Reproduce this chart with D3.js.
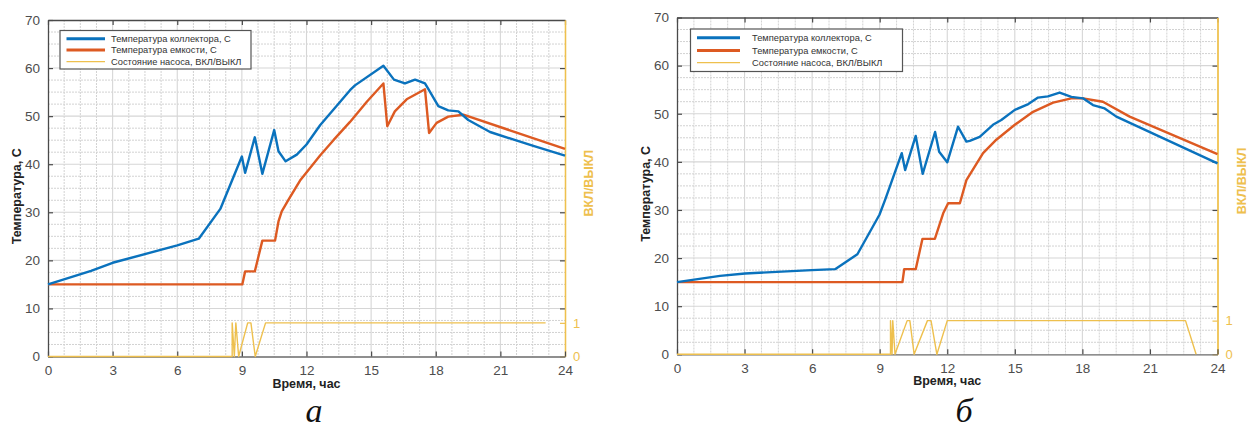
<!DOCTYPE html>
<html>
<head>
<meta charset="utf-8">
<script src="https://cdn.jsdelivr.net/npm/d3@7"></script>
<style>
  html, body { margin: 0; padding: 0; background: #fff; }
  svg { display: block; }
</style>
</head>
<body>
<svg id="chart" width="1247" height="432"></svg>
<script>
// ---------- DATA ----------
const hourTicks = [0, 3, 6, 9, 12, 15, 18, 21, 24];
const tempTicks = [0, 10, 20, 30, 40, 50, 60, 70];
const pumpTicks = [0, 1];
const legendLabels = ["Температура коллектора, С", "Температура емкости, С", "Состояние насоса, ВКЛ/ВЫКЛ"];
const xTitle = "Время, час";
const yTitle = "Температура, С";
const y2Title = "ВКЛ/ВЫКЛ";
const captions = ["а", "б"];

// Panel a
const collectorA_t = [0, 2, 3, 6, 7, 8, 9.0, 9.15, 9.6, 9.95, 10.5, 10.7, 11.03, 11.55, 12.0, 12.63, 14.02, 14.25, 15.57, 16.06, 16.57, 17.04, 17.5, 17.66, 18.12, 18.58, 19.05, 19.51, 20.52, 22.53, 24];
const collectorA_v = [15, 17.8, 19.5, 23.1, 24.5, 30.7, 41.6, 38.2, 45.6, 38.0, 47.1, 42.7, 40.6, 42.0, 44.1, 48.1, 55.4, 56.4, 60.5, 57.6, 56.8, 57.6, 56.8, 55.6, 52.1, 51.2, 51.0, 49.2, 46.7, 43.8, 41.8];
const tankA_t = [0, 9.02, 9.15, 9.6, 9.95, 10.54, 10.7, 10.85, 11.16, 11.7, 12.63, 13.25, 14.02, 14.8, 15.57, 15.75, 16.1, 16.65, 17.5, 17.69, 18.04, 18.58, 19.28, 24];
const tankA_v = [15, 15, 17.7, 17.7, 24.1, 24.1, 28.1, 30.2, 32.6, 36.6, 41.8, 45.0, 48.8, 53.0, 56.8, 47.9, 51.0, 53.5, 55.6, 46.5, 48.6, 49.9, 50.3, 43.2];
const pumpA_t = [0, 8.55, 8.55, 8.65, 8.72, 8.85, 9.27, 9.42, 9.62, 10.1, 23.1];
const pumpA_v = [0, 0, 1, 0, 1, 0, 1, 1, 0, 1, 1];

// Panel б
const collectorB_t = [0, 1.91, 3.02, 5.98, 7.02, 8.01, 8.99, 9.24, 9.98, 10.13, 10.6, 10.91, 11.46, 11.64, 12.0, 12.48, 12.85, 13.0, 13.44, 14.03, 14.4, 15.0, 15.6, 16.03, 16.47, 16.99, 17.51, 18.03, 18.47, 18.99, 19.51, 24];
const collectorB_v = [15, 16.3, 16.8, 17.5, 17.7, 20.8, 29.0, 32.1, 41.8, 38.3, 45.4, 37.5, 46.2, 42.1, 39.9, 47.3, 44.2, 44.35, 45.2, 47.7, 48.7, 50.8, 52.0, 53.35, 53.6, 54.4, 53.5, 53.2, 51.8, 51.1, 49.4, 39.7];
const tankB_t = [0, 10.01, 10.09, 10.6, 10.9, 11.45, 11.82, 12.04, 12.56, 12.85, 13.59, 14.18, 15.0, 15.81, 16.7, 17.51, 18.03, 18.91, 20.1, 24];
const tankB_v = [15, 15, 17.7, 17.7, 24.0, 24.0, 29.3, 31.4, 31.4, 36.2, 41.8, 44.6, 47.7, 50.4, 52.3, 53.2, 53.2, 52.5, 49.4, 41.6];
const pumpB_t = [0, 9.48, 9.48, 9.55, 9.58, 9.68, 10.22, 10.34, 10.53, 11.12, 11.28, 11.54, 12.0, 22.58, 23.05];
const pumpB_v = [0, 0, 1, 0, 1, 0, 1, 1, 0, 1, 1, 0, 1, 1, 0];

// ---------- STYLE ----------
const C_BLUE = "#0a72bd";
const C_ORANGE = "#dd5a22";
const C_YELLOW = "#eec04e";
const C_AXIS = "#4a4a4a";
const C_TEXT = "#4d4d4d";

const panels = [
  { x0: 48, x1: 565, yT: 20, yB: 356.5, legend: { x: 60, y: 30.5, w: 191, h: 38.5, lx0: 66.5, lx1: 105, tx: 111, rows: [38.7, 50, 61.7] },
    caption: { x: 314, y: 422 },
    coll: [collectorA_t, collectorA_v], tank: [tankA_t, tankA_v], pump: [pumpA_t, pumpA_v] },
  { x0: 677, x1: 1217.5, yT: 17.5, yB: 354.3, legend: { x: 690.5, y: 29, w: 212, h: 42.5, lx0: 697, lx1: 740, tx: 752, rows: [37.7, 50.5, 62.7] },
    caption: { x: 964, y: 422 },
    coll: [collectorB_t, collectorB_v], tank: [tankB_t, tankB_v], pump: [pumpB_t, pumpB_v] }
];

const svg = d3.select("#chart");

panels.forEach((p, pi) => {
  const g = svg.append("g");
  const x = d3.scaleLinear().domain([0, 24]).range([p.x0, p.x1]);
  const y = d3.scaleLinear().domain([0, 70]).range([p.yB, p.yT]);
  const y2 = d3.scaleLinear().domain([0, 10]).range([p.yB, p.yT]);

  // minor grid (dotted)
  const minorX = d3.range(0, 24.001, 0.75).filter(v => v % 3 !== 0);
  const minorY = d3.range(0, 70.001, 2.5).filter(v => v % 10 !== 0);
  g.append("g").selectAll("line").data(minorX).join("line")
    .attr("x1", d => x(d)).attr("x2", d => x(d)).attr("y1", p.yT).attr("y2", p.yB)
    .attr("stroke", "#d2d2d2").attr("stroke-width", 1).attr("stroke-dasharray", "2,1");
  g.append("g").selectAll("line").data(minorY).join("line")
    .attr("y1", d => y(d)).attr("y2", d => y(d)).attr("x1", p.x0).attr("x2", p.x1)
    .attr("stroke", "#d2d2d2").attr("stroke-width", 1).attr("stroke-dasharray", "2,1");
  // major grid
  g.append("g").selectAll("line").data(hourTicks.slice(1, -1)).join("line")
    .attr("x1", d => x(d)).attr("x2", d => x(d)).attr("y1", p.yT).attr("y2", p.yB)
    .attr("stroke", "#d6d6d6").attr("stroke-width", 1.1);
  g.append("g").selectAll("line").data(tempTicks.slice(1, -1)).join("line")
    .attr("y1", d => y(d)).attr("y2", d => y(d)).attr("x1", p.x0).attr("x2", p.x1)
    .attr("stroke", "#d6d6d6").attr("stroke-width", 1.1);

  // axes
  const axB = d3.axisBottom(x).tickValues(hourTicks).tickSizeInner(-5).tickSizeOuter(0).tickPadding(9);
  const axT = d3.axisTop(x).tickValues(hourTicks).tickSizeInner(-5).tickSizeOuter(0).tickFormat("");
  const axL = d3.axisLeft(y).tickValues(tempTicks).tickSizeInner(-5).tickSizeOuter(0).tickPadding(8);
  const axR = d3.axisRight(y).tickValues(tempTicks.slice(1, -1)).tickSizeInner(-5).tickSizeOuter(0).tickFormat("");
  const axR2 = d3.axisRight(y2).tickValues(pumpTicks).tickSizeInner(-5).tickSizeOuter(0).tickPadding(8);

  const styleAxis = (sel, col) => {
    sel.select(".domain").attr("stroke", col).attr("stroke-width", 1.3);
    sel.selectAll(".tick line").attr("stroke", C_AXIS).attr("stroke-width", 1.2);
    sel.selectAll(".tick text").attr("fill", C_TEXT).attr("font-family", "Liberation Sans, Arial, sans-serif").attr("font-size", 13.5);
  };
  styleAxis(g.append("g").attr("transform", `translate(0,${p.yT})`).call(axT), C_AXIS);
  styleAxis(g.append("g").attr("transform", `translate(${p.x0},0)`).call(axL), C_AXIS);
  styleAxis(g.append("g").attr("transform", `translate(${p.x1},0)`).call(axR), C_YELLOW);
  const r2 = g.append("g").attr("transform", `translate(${p.x1},0)`).call(axR2);
  styleAxis(r2, C_YELLOW);
  r2.selectAll(".tick line").attr("stroke", C_YELLOW);
  r2.selectAll(".tick text").attr("fill", C_YELLOW).attr("font-size", 13);
  const bAx = g.append("g").attr("transform", `translate(0,${p.yB})`).call(axB);
  styleAxis(bAx, C_AXIS);
  bAx.select(".domain").attr("stroke", "#6a6a6a");

  // lines
  const mk = (ts, vs) => ts.map((t, i) => [t, vs[i]]);
  const line = d3.line().x(d => x(d[0])).y(d => y(d[1]));
  const line2 = d3.line().x(d => x(d[0])).y(d => y2(d[1]));
  g.append("path").attr("d", line2(mk(p.pump[0], p.pump[1]))).attr("fill", "none")
    .attr("stroke", C_YELLOW).attr("stroke-width", 1.4).attr("stroke-linejoin", "round");
  g.append("path").attr("d", line(mk(p.tank[0], p.tank[1]))).attr("fill", "none")
    .attr("stroke", C_ORANGE).attr("stroke-width", 2.4).attr("stroke-linejoin", "round");
  g.append("path").attr("d", line(mk(p.coll[0], p.coll[1]))).attr("fill", "none")
    .attr("stroke", C_BLUE).attr("stroke-width", 2.4).attr("stroke-linejoin", "round");

  // axis titles
  g.append("text").text(xTitle)
    .attr("x", (p.x0 + p.x1) / 2).attr("y", p.yB + 31)
    .attr("text-anchor", "middle").attr("font-family", "Liberation Sans, Arial, sans-serif")
    .attr("font-weight", "bold").attr("font-size", 12.5).attr("fill", "#222");
  g.append("text").text(yTitle)
    .attr("transform", `translate(${p.x0 - 27},${(p.yT + p.yB) / 2 + 8}) rotate(-90)`)
    .attr("text-anchor", "middle").attr("font-family", "Liberation Sans, Arial, sans-serif")
    .attr("font-weight", "bold").attr("font-size", 12.5).attr("fill", "#222");
  g.append("text").text(y2Title)
    .attr("transform", `translate(${p.x1 + 28},${(p.yT + p.yB) / 2 - 5}) rotate(-90)`)
    .attr("text-anchor", "middle").attr("font-family", "Liberation Sans, Arial, sans-serif")
    .attr("font-weight", "bold").attr("font-size", 12.5).attr("fill", C_YELLOW);

  // legend
  const L = p.legend;
  const lg = g.append("g");
  lg.append("rect").attr("x", L.x).attr("y", L.y).attr("width", L.w).attr("height", L.h)
    .attr("fill", "#fff").attr("stroke", "#555").attr("stroke-width", 1.2);
  const cols = [C_BLUE, C_ORANGE, C_YELLOW];
  const widths = [3, 3, 1.2];
  legendLabels.forEach((lab, i) => {
    lg.append("line").attr("x1", L.lx0).attr("x2", L.lx1).attr("y1", L.rows[i]).attr("y2", L.rows[i])
      .attr("stroke", cols[i]).attr("stroke-width", widths[i]);
    lg.append("text").text(lab).attr("x", L.tx).attr("y", L.rows[i] + 3.3)
      .attr("font-family", "Liberation Sans, Arial, sans-serif").attr("font-size", 9.3).attr("fill", "#333");
  });

  // caption
  g.append("text").text(captions[pi]).attr("x", p.caption.x).attr("y", p.caption.y)
    .attr("text-anchor", "middle").attr("font-family", "Liberation Serif, Times New Roman, serif")
    .attr("font-style", "italic").attr("font-size", 34).attr("fill", "#111");
});
</script>
</body>
</html>
